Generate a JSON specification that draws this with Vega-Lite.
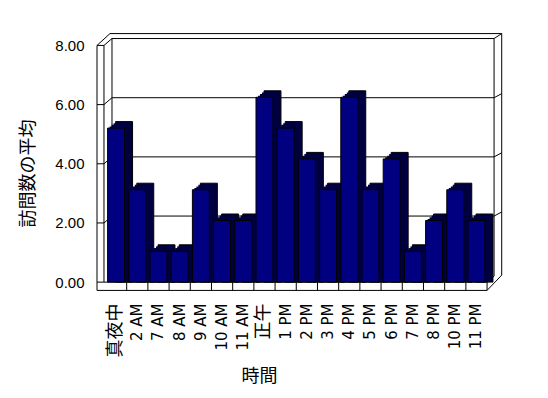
{
  "$schema": "https://vega.github.io/schema/vega-lite/v6.json",
  "width": 405,
  "height": 258,
  "autosize": {"type": "none"},
  "padding": {"left": 97, "top": 33, "right": 46, "bottom": 107},
  "background": "white",
  "config": {"view": {"stroke": null}, "font": "Liberation Sans"},
  "datasets": {
    "visits": [
      {"hour": "真夜中", "avg": 5},
      {"hour": "2 AM", "avg": 3},
      {"hour": "7 AM", "avg": 1},
      {"hour": "8 AM", "avg": 1},
      {"hour": "9 AM", "avg": 3},
      {"hour": "10 AM", "avg": 2},
      {"hour": "11 AM", "avg": 2},
      {"hour": "正午", "avg": 6},
      {"hour": "1 PM", "avg": 5},
      {"hour": "2 PM", "avg": 4},
      {"hour": "3 PM", "avg": 3},
      {"hour": "4 PM", "avg": 6},
      {"hour": "5 PM", "avg": 3},
      {"hour": "6 PM", "avg": 4},
      {"hour": "7 PM", "avg": 1},
      {"hour": "8 PM", "avg": 2},
      {"hour": "10 PM", "avg": 3},
      {"hour": "11 PM", "avg": 2}
    ],
    "frame": [
      {"x": -0.4, "y": -0.28, "x2": -0.4, "y2": 8.0},
      {"x": -0.071, "y": 0, "x2": -0.071, "y2": 8.0},
      {"x": -0.4, "y": 8.0, "x2": -0.071, "y2": 8.0},
      {"x": -0.4, "y": 8.0, "x2": 0.212, "y2": 8.4},
      {"x": -0.071, "y": 8.0, "x2": 0.307, "y2": 8.233},
      {"x": 0.307, "y": 0.233, "x2": 0.307, "y2": 8.233},
      {"x": 0.212, "y": 8.4, "x2": 18.69, "y2": 8.4},
      {"x": 0.307, "y": 8.233, "x2": 18.33, "y2": 8.233},
      {"x": 18.33, "y": 0.2, "x2": 18.33, "y2": 8.233},
      {"x": 18.69, "y": 0.236, "x2": 18.69, "y2": 8.4},
      {"x": 18.33, "y": 8.233, "x2": 18.69, "y2": 8.4},
      {"x": -0.4, "y": 2, "x2": -0.071, "y2": 2},
      {"x": -0.071, "y": 2, "x2": 0.307, "y2": 2.233},
      {"x": 0.307, "y": 2.233, "x2": 18.33, "y2": 2.233},
      {"x": 18.33, "y": 2.233, "x2": 18.69, "y2": 2.37},
      {"x": -0.4, "y": 4, "x2": -0.071, "y2": 4},
      {"x": -0.071, "y": 4, "x2": 0.307, "y2": 4.233},
      {"x": 0.307, "y": 4.233, "x2": 18.33, "y2": 4.233},
      {"x": 18.33, "y": 4.233, "x2": 18.69, "y2": 4.37},
      {"x": -0.4, "y": 6, "x2": -0.071, "y2": 6},
      {"x": -0.071, "y": 6, "x2": 0.307, "y2": 6.233},
      {"x": 0.307, "y": 6.233, "x2": 18.33, "y2": 6.233},
      {"x": 18.33, "y": 6.233, "x2": 18.69, "y2": 6.37},
      {"x": -0.4, "y": 0, "x2": 18, "y2": 0},
      {"x": -0.4, "y": -0.28, "x2": 18, "y2": -0.28},
      {"x": 18, "y": -0.28, "x2": 18, "y2": 0},
      {"x": 18, "y": 0, "x2": 18.33, "y2": 0.2},
      {"x": 18, "y": -0.28, "x2": 18.69, "y2": 0.236},
      {"x": 1, "y": -0.28, "x2": 1, "y2": 0},
      {"x": 2, "y": -0.28, "x2": 2, "y2": 0},
      {"x": 3, "y": -0.28, "x2": 3, "y2": 0},
      {"x": 4, "y": -0.28, "x2": 4, "y2": 0},
      {"x": 5, "y": -0.28, "x2": 5, "y2": 0},
      {"x": 6, "y": -0.28, "x2": 6, "y2": 0},
      {"x": 7, "y": -0.28, "x2": 7, "y2": 0},
      {"x": 8, "y": -0.28, "x2": 8, "y2": 0},
      {"x": 9, "y": -0.28, "x2": 9, "y2": 0},
      {"x": 10, "y": -0.28, "x2": 10, "y2": 0},
      {"x": 11, "y": -0.28, "x2": 11, "y2": 0},
      {"x": 12, "y": -0.28, "x2": 12, "y2": 0},
      {"x": 13, "y": -0.28, "x2": 13, "y2": 0},
      {"x": 14, "y": -0.28, "x2": 14, "y2": 0},
      {"x": 15, "y": -0.28, "x2": 15, "y2": 0},
      {"x": 16, "y": -0.28, "x2": 16, "y2": 0},
      {"x": 17, "y": -0.28, "x2": 17, "y2": 0}
    ]
  },
  "layer": [
    {
      "data": {"name": "frame"},
      "mark": {"type": "rule", "color": "black", "strokeWidth": 1},
      "encoding": {
        "x": {"field": "x", "type": "quantitative", "scale": {"domain": [-0.4, 18.704], "nice": false, "zero": false}, "axis": null},
        "x2": {"field": "x2"},
        "y": {
          "field": "y", "type": "quantitative",
          "scale": {"domain": [-0.3, 8.42], "nice": false, "zero": false},
          "axis": {
            "title": "訪問数の平均", "values": [0, 2, 4, 6, 8], "format": ".2f",
            "grid": false, "domain": false, "ticks": false, "labelPadding": 13,
            "labelFontSize": 15, "labelColor": "black", "labelFont": "Liberation Sans",
            "titleFont": "Noto Sans CJK JP", "titleFontSize": 18, "titleFontWeight": "normal",
            "titleColor": "black", "titleX": -69, "titleY": 140, "titleAngle": -90,
            "titleAlign": "center", "titleBaseline": "middle"
          }
        },
        "y2": {"field": "y2"}
      }
    },
    {
      "data": {"name": "visits"},
      "encoding": {
        "x": {
          "field": "hour", "type": "nominal", "sort": null,
          "scale": {"paddingInner": 0, "paddingOuter": 0.552, "align": 0.3623},
          "axis": {
            "title": "時間", "labelAngle": -90, "labelPadding": 12, "domain": false, "ticks": false,
            "labelOverlap": false, "labelColor": "black",
            "labelFont": "DejaVu Sans, Noto Sans CJK JP",
            "labelFontSize": {"condition": {"test": "datum.value === '真夜中' || datum.value === '正午'", "value": 18}, "value": 15},
            "titleFont": "Noto Sans CJK JP", "titleFontSize": 18, "titleFontWeight": "normal",
            "titleColor": "black", "titleX": 162, "titleY": 76, "titleAlign": "center", "titleBaseline": "top"
          }
        },
        "y": {"field": "avg", "type": "quantitative", "scale": {"domain": [-0.289, 8.088], "nice": false, "zero": false}, "axis": null},
        "y2": {"datum": 0}
      },
      "layer": [
        {"mark": {"type": "bar", "width": {"band": 0.8}, "color": "#000040", "stroke": "black", "strokeWidth": 1, "xOffset": 8, "yOffset": -6.5}},
        {"mark": {"type": "bar", "width": {"band": 0.8}, "color": "#000040", "xOffset": 6, "yOffset": -4.9}},
        {"mark": {"type": "bar", "width": {"band": 0.8}, "color": "#000040", "xOffset": 4, "yOffset": -3.25}},
        {"mark": {"type": "bar", "width": {"band": 0.8}, "color": "#000040", "xOffset": 2, "yOffset": -1.6}},
        {"mark": {"type": "bar", "width": {"band": 0.8}, "color": "#000080", "stroke": "black", "strokeWidth": 1}}
      ]
    }
  ],
  "resolve": {"scale": {"x": "independent", "y": "independent"}, "axis": {"x": "independent", "y": "independent"}}
}
